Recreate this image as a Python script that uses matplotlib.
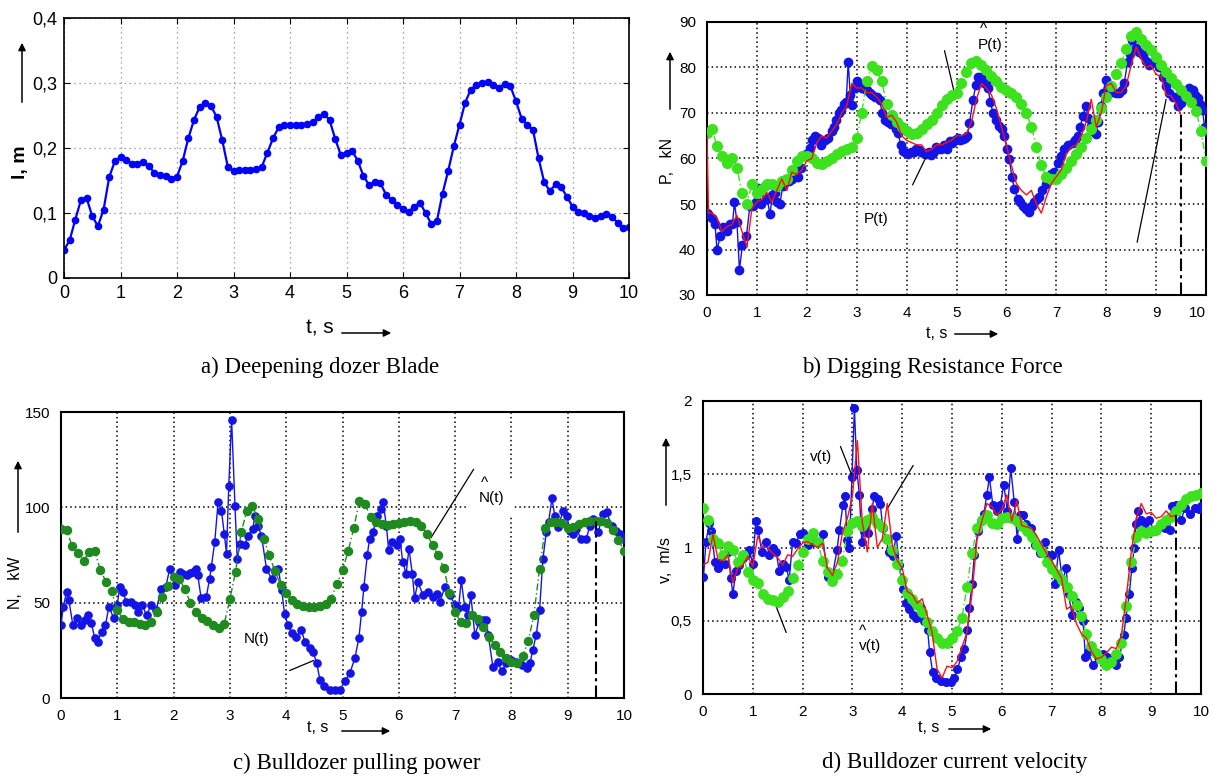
import numpy as np
import matplotlib
matplotlib.use("Agg")
import matplotlib.pyplot as plt
from matplotlib.patches import FancyArrowPatch

W, H = 1214, 779

# common time grid, 0.1 s step
T = np.round(np.arange(101) * 0.1, 1)

# a) blade deepening l, m
L_A = [0.043, 0.058, 0.090, 0.120, 0.123, 0.095, 0.080, 0.105, 0.155, 0.180,
       0.186, 0.182, 0.176, 0.175, 0.179, 0.172, 0.162, 0.159, 0.157, 0.153,
       0.156, 0.180, 0.215, 0.243, 0.263, 0.270, 0.265, 0.248, 0.212, 0.171,
       0.165, 0.166, 0.166, 0.166, 0.167, 0.171, 0.193, 0.215, 0.232, 0.236,
       0.236, 0.236, 0.236, 0.237, 0.240, 0.247, 0.253, 0.243, 0.214, 0.189,
       0.192, 0.196, 0.180, 0.157, 0.143, 0.147, 0.146, 0.128, 0.120, 0.113,
       0.106, 0.102, 0.110, 0.116, 0.100, 0.083, 0.088, 0.130, 0.165, 0.203,
       0.236, 0.270, 0.290, 0.297, 0.300, 0.302, 0.297, 0.293, 0.299, 0.295,
       0.272, 0.245, 0.236, 0.228, 0.184, 0.147, 0.134, 0.144, 0.140, 0.125,
       0.110, 0.102, 0.100, 0.096, 0.093, 0.096, 0.098, 0.094, 0.085, 0.077,
       0.078]

# b) digging resistance P, kN
T_B_BLUE = [0.0, 0.03, 0.1, 0.16, 0.2, 0.27, 0.32, 0.36, 0.41, 0.46,
            0.51, 0.55, 0.6, 0.65, 0.71, 0.79, 0.86, 0.93, 0.98, 1.03,
            1.09, 1.16, 1.21, 1.26, 1.31, 1.36, 1.41, 1.46, 1.52, 1.59,
            1.65, 1.71, 1.77, 1.83, 1.88, 1.93, 1.98, 2.06, 2.11, 2.16,
            2.22, 2.29, 2.36, 2.43, 2.5, 2.55, 2.59, 2.64, 2.69, 2.74,
            2.79, 2.83, 2.87, 2.91, 2.96, 3.01, 3.06, 3.11, 3.16, 3.21,
            3.26, 3.31, 3.36, 3.41, 3.46, 3.51, 3.56, 3.62, 3.68, 3.73,
            3.78, 3.83, 3.88, 3.93, 3.98, 4.03, 4.09, 4.14, 4.19, 4.24,
            4.29, 4.34, 4.39, 4.44, 4.49, 4.53, 4.58, 4.63, 4.69, 4.75,
            4.8, 4.86, 4.91, 4.96, 5.03, 5.08, 5.13, 5.18, 5.22, 5.26,
            5.33, 5.39, 5.44, 5.49, 5.55, 5.59, 5.63, 5.68, 5.73, 5.79,
            5.86, 5.91, 5.96, 6.01, 6.06, 6.11, 6.16, 6.23, 6.28, 6.33,
            6.39, 6.46, 6.51, 6.56, 6.61, 6.66, 6.72, 6.79, 6.84, 6.89,
            6.96, 7.03, 7.09, 7.16, 7.24, 7.33, 7.38, 7.43, 7.48, 7.53,
            7.59, 7.64, 7.69, 7.74, 7.79, 7.84, 7.89, 7.94, 7.99, 8.06,
            8.13, 8.19, 8.26, 8.31, 8.36, 8.43, 8.47, 8.51, 8.55, 8.59,
            8.66, 8.73, 8.8, 8.86, 8.92, 8.99, 9.06, 9.13, 9.19, 9.26,
            9.33, 9.39, 9.44, 9.49, 9.54, 9.59, 9.66, 9.73, 9.78, 9.83,
            9.88, 9.93, 9.97, 10.0]
P_B_BLUE = [48.0, 47.7, 47.0, 45.6, 40.0, 43.0, 45.0, 44.5, 44.0, 45.6,
            45.5, 50.4, 46.0, 35.5, 41.0, 43.0, 49.6, 49.5, 50.5, 53.6,
            50.0, 54.0, 51.0, 47.7, 52.0, 52.5, 50.5, 50.0, 54.0, 55.5,
            55.0, 55.5, 56.5, 56.0, 58.0, 60.5, 61.0, 62.4, 64.0, 65.0,
            64.5, 63.0, 64.0, 64.5, 66.0, 67.0, 68.5, 70.0, 70.7, 72.0,
            72.5, 81.3, 74.0, 71.8, 75.5, 77.0, 75.8, 75.5, 75.2, 75.0,
            74.4, 74.0, 73.5, 73.5, 72.9, 70.0, 68.5, 68.0, 67.5, 67.8,
            66.5, 65.6, 63.0, 61.6, 61.2, 60.9, 61.5, 61.5, 62.0, 61.8,
            61.5, 61.2, 60.9, 61.5, 60.7, 61.3, 62.5, 62.0, 62.0, 63.0,
            62.0, 63.8, 63.5, 64.0, 64.5, 64.0, 64.2, 64.5, 65.0, 67.8,
            72.9, 76.2, 78.0, 78.0, 76.5, 76.5, 75.5, 72.5, 70.0, 68.5,
            67.1, 66.5, 64.9, 62.0, 59.8, 56.0, 53.3, 51.0, 50.5, 49.6,
            48.8, 48.2, 49.5, 50.4, 51.0, 51.5, 53.0, 54.4, 55.5, 56.5,
            57.0, 59.1, 60.5, 62.0, 63.0, 63.5, 64.0, 64.9, 67.0, 69.3,
            71.5, 69.0, 67.1, 66.0, 65.3, 68.0, 71.5, 74.5, 77.3, 75.5,
            74.7, 74.5, 74.4, 75.0, 76.5, 81.3, 83.0, 86.0, 86.5, 84.2,
            83.5, 82.7, 81.5, 80.5, 81.0, 82.0, 80.0, 78.0, 76.0, 74.4,
            73.5, 73.6, 71.5, 72.2, 73.5, 74.4, 75.5, 75.0, 74.0, 73.3,
            72.0, 70.7, 67.0, 66.0]
# red model curve: starts at t=0 and t=0.03, then 0.1 ... 9.5
T_B_RED = [0.0, 0.03] + list(T[1:96])
P_B_RED = [65.0, 48.0,
           48.0, 47.0, 44.0, 45.0, 45.5, 47.5, 44.0, 40.5, 49.0, 50.5,
           51.0, 52.5, 50.5, 53.0, 55.5, 53.0, 57.0, 56.5, 57.5, 59.5,
           60.0, 63.5, 65.0, 64.5, 66.0, 67.5, 70.0, 71.5, 76.5, 75.5,
           75.5, 74.5, 74.5, 73.5, 72.0, 69.0, 69.5, 68.0, 65.0, 64.0,
           63.5, 63.0, 63.0, 61.5, 62.0, 63.0, 63.0, 63.5, 64.0, 65.0,
           65.0, 65.5, 68.0, 73.0, 76.5, 75.5, 74.0, 71.0, 67.0, 63.0,
           58.5, 54.5, 53.0, 52.0, 53.0, 50.0, 48.0, 51.5, 54.5, 56.0,
           57.5, 61.0, 62.5, 63.0, 65.0, 68.0, 73.0, 67.0, 70.0, 76.0,
           76.5, 74.5, 74.5, 76.0, 80.5, 84.5, 82.0, 80.0, 80.5, 78.5,
           78.0, 74.0, 73.8, 72.0, 69.5]
P_B_GREEN = [65.6, 66.5, 62.7, 60.5, 59.0, 60.2, 58.0, 52.5, 50.0, 54.5,
             52.5, 53.3, 54.5, 54.5, 54.0, 55.0, 55.5, 57.5, 59.5, 60.5,
             60.5, 60.0, 59.0, 58.7, 59.5, 60.2, 61.0, 61.7, 62.0, 62.5,
             64.5, 70.0, 77.0, 80.3, 79.5, 77.0, 72.0, 69.5, 68.0, 67.0,
             66.0, 65.3, 65.6, 66.5, 67.5, 68.5, 70.0, 71.8, 73.0, 74.0,
             74.3, 76.5, 79.0, 81.0, 81.5, 80.5, 79.5, 78.2, 77.0, 75.8,
             75.0, 74.3, 73.5, 72.0, 70.0, 67.0, 62.5, 58.5, 56.0, 55.5,
             55.5, 56.5, 58.0, 59.5, 61.0, 62.5, 64.5, 66.5, 68.5, 71.0,
             73.5, 76.0, 78.5, 81.0, 84.0, 87.0, 87.8, 86.3, 85.0, 83.8,
             82.2, 80.5, 79.0, 77.6, 76.3, 75.0, 73.7, 72.5, 70.5, 66.0,
             59.5]

# c) pulling power N, kW
T_C_BLUE = [0.0, 0.04, 0.1, 0.14, 0.21, 0.29, 0.36, 0.42, 0.48, 0.54,
            0.6, 0.65, 0.72, 0.79, 0.85, 0.94, 1.0, 1.04, 1.1, 1.16,
            1.25, 1.31, 1.37, 1.44, 1.52, 1.6, 1.69, 1.78, 1.86, 1.93,
            2.02, 2.11, 2.17, 2.23, 2.29, 2.35, 2.4, 2.43, 2.49, 2.58,
            2.64, 2.67, 2.73, 2.79, 2.85, 2.9, 2.94, 2.98, 3.03, 3.09,
            3.13, 3.18, 3.26, 3.32, 3.41, 3.44, 3.5, 3.56, 3.65, 3.74,
            3.8, 3.86, 3.92, 3.97, 4.03, 4.1, 4.18, 4.27, 4.33, 4.42,
            4.48, 4.54, 4.6, 4.68, 4.77, 4.86, 4.95, 5.04, 5.13, 5.22,
            5.29, 5.34, 5.38, 5.44, 5.48, 5.54, 5.62, 5.68, 5.72, 5.78,
            5.82, 5.88, 5.96, 6.02, 6.07, 6.13, 6.18, 6.24, 6.28, 6.34,
            6.43, 6.52, 6.61, 6.67, 6.73, 6.82, 6.91, 7.0, 7.06, 7.11,
            7.17, 7.23, 7.28, 7.35, 7.43, 7.49, 7.55, 7.59, 7.67, 7.76,
            7.83, 7.91, 8.0, 8.09, 8.18, 8.27, 8.33, 8.38, 8.44, 8.5,
            8.56, 8.62, 8.66, 8.72, 8.77, 8.83, 8.92, 8.98, 9.04, 9.09,
            9.15, 9.24, 9.33, 9.39, 9.45, 9.54, 9.63, 9.69, 9.78, 9.86,
            9.93, 10.0]
N_C_BLUE = [38.3, 47.8, 55.7, 51.3, 38.3, 41.7, 38.3, 40.9, 43.5, 39.1,
            31.3, 29.2, 34.8, 38.3, 47.8, 41.7, 48.7, 58.3, 55.7, 50.4,
            50.4, 48.7, 45.2, 48.7, 43.5, 48.7, 46.0, 57.4, 58.0, 67.8,
            59.1, 66.1, 65.0, 64.3, 65.5, 66.1, 67.8, 64.3, 52.2, 53.0,
            62.6, 68.7, 81.7, 102.6, 98.3, 86.1, 75.7, 111.3, 146.0, 100.9,
            73.0, 80.9, 80.0, 85.2, 88.7, 95.7, 90.0, 85.2, 67.8, 62.6,
            67.0, 67.8, 56.5, 44.3, 38.3, 33.9, 32.2, 35.7, 29.6, 26.1,
            24.3, 18.3, 9.6, 6.1, 4.3, 4.3, 4.3, 8.7, 13.0, 20.9,
            31.3, 45.2, 58.3, 74.8, 83.5, 87.0, 95.7, 99.1, 102.6, 90.4,
            77.4, 81.7, 80.0, 83.5, 71.3, 65.2, 78.3, 65.2, 52.2, 60.9,
            53.9, 55.7, 53.0, 54.8, 50.4, 58.3, 53.9, 48.7, 47.0, 61.7,
            47.8, 43.5, 53.9, 33.0, 40.0, 41.0, 40.9, 33.0, 16.5, 19.1,
            13.9, 18.3, 20.0, 19.1, 17.4, 15.7, 18.3, 25.2, 33.0, 46.0,
            73.0, 87.0, 92.2, 104.7, 95.7, 89.6, 98.3, 95.7, 87.8, 86.1,
            88.7, 83.5, 83.5, 90.0, 93.9, 87.0, 96.5, 97.4, 90.4, 87.8,
            86.0, 83.5]
N_C_GREEN = [88.7, 88.0, 79.5, 76.0, 72.0, 76.5, 77.0, 67.0, 61.0, 56.0,
             46.0, 41.5, 40.0, 40.0, 39.0, 38.5, 40.0, 45.0, 53.0, 59.0,
             63.5, 62.5, 57.0, 50.0, 45.0, 42.0, 40.5, 38.5, 36.5, 39.0,
             52.0, 66.0, 87.0, 98.0, 100.5, 94.0, 83.5, 75.0, 66.5, 59.5,
             55.0, 51.5, 49.5, 48.5, 47.8, 47.8, 48.5, 49.3, 52.0, 60.0,
             67.0, 77.0, 89.0, 103.5, 101.5, 95.0, 92.5, 91.5, 90.5, 91.0,
             92.0, 92.5, 93.0, 92.5, 90.0, 86.0, 80.0, 74.8, 68.0, 55.0,
             45.0, 40.0, 39.1, 43.5, 41.5, 37.0, 32.0, 28.0, 24.0, 21.0,
             19.0, 18.5, 22.0, 30.0, 43.5, 67.8, 89.0, 92.5, 92.5, 92.0,
             89.0, 89.5, 91.0, 92.2, 92.8, 93.0, 93.0, 92.0, 88.0, 83.0,
             77.0]

# d) current velocity v, m/s
T_D_BLUE = [0.01, 0.06, 0.13, 0.17, 0.24, 0.31, 0.38, 0.44, 0.5, 0.56,
            0.6, 0.66, 0.73, 0.8, 0.86, 0.93, 1.0, 1.06, 1.11, 1.18,
            1.27, 1.33, 1.4, 1.47, 1.53, 1.6, 1.67, 1.73, 1.8, 1.87,
            1.94, 2.0, 2.1, 2.2, 2.3, 2.4, 2.5, 2.6, 2.69, 2.74,
            2.81, 2.85, 2.9, 2.94, 2.99, 3.04, 3.09, 3.14, 3.19, 3.24,
            3.31, 3.39, 3.44, 3.51, 3.56, 3.61, 3.67, 3.74, 3.81, 3.88,
            3.94, 4.01, 4.08, 4.14, 4.21, 4.28, 4.38, 4.44, 4.51, 4.55,
            4.61, 4.68, 4.78, 4.88, 4.98, 5.05, 5.11, 5.18, 5.25, 5.31,
            5.35, 5.4, 5.45, 5.52, 5.58, 5.64, 5.7, 5.75, 5.82, 5.9,
            5.97, 6.04, 6.11, 6.18, 6.25, 6.31, 6.36, 6.42, 6.49, 6.58,
            6.66, 6.76, 6.86, 6.92, 7.0, 7.07, 7.14, 7.22, 7.29, 7.34,
            7.41, 7.49, 7.56, 7.63, 7.68, 7.73, 7.83, 7.94, 8.04, 8.12,
            8.2, 8.3, 8.36, 8.45, 8.49, 8.56, 8.61, 8.66, 8.69, 8.73,
            8.79, 8.88, 8.96, 9.06, 9.16, 9.27, 9.37, 9.41, 9.5, 9.6,
            9.68, 9.77, 9.87, 9.95, 10.0]
V_D_BLUE = [0.80, 1.04, 1.17, 1.11, 0.90, 0.86, 0.90, 0.89, 0.97, 0.79,
            0.68, 0.84, 0.88, 0.93, 0.95, 0.98, 0.89, 1.18, 1.12, 0.97,
            1.04, 0.95, 1.00, 0.97, 0.84, 0.89, 0.87, 0.78, 1.04, 1.03,
            1.09, 1.10, 1.02, 1.04, 1.03, 1.09, 0.80, 0.81, 0.98, 1.12,
            1.29, 1.35, 1.05, 1.00, 1.48, 1.95, 1.53, 1.36, 1.04, 1.11,
            1.10, 1.26, 1.35, 1.33, 1.30, 1.13, 1.06, 0.97, 0.94, 1.08,
            0.88, 0.72, 0.62, 0.58, 0.54, 0.52, 0.59, 0.50, 0.44, 0.29,
            0.15, 0.11, 0.09, 0.08, 0.08, 0.11, 0.17, 0.25, 0.31, 0.44,
            0.59, 0.75, 0.95, 1.11, 1.18, 1.23, 1.36, 1.48, 1.29, 1.25,
            1.29, 1.43, 1.25, 1.54, 1.31, 1.06, 1.22, 1.22, 1.16, 1.13,
            1.02, 0.96, 1.04, 0.95, 0.95, 0.75, 0.98, 0.77, 0.86, 0.68,
            0.54, 0.63, 0.59, 0.50, 0.25, 0.29, 0.20, 0.25, 0.27, 0.25,
            0.23, 0.20, 0.25, 0.40, 0.52, 0.68, 0.86, 1.00, 1.16, 1.25,
            1.19, 1.17, 1.19, 1.11, 1.14, 1.13, 1.12, 1.28, 1.29, 1.19,
            1.27, 1.23, 1.27, 1.26, 1.28]
# red model: 0.0 ... 9.5 s
V_D_RED = [0.88, 0.90, 1.09, 0.92, 0.91, 0.95, 0.76, 0.86, 0.88, 0.94,
           0.87, 1.08, 1.00, 1.00, 0.96, 0.93, 0.88, 0.95, 0.94, 0.99,
           1.03, 1.04, 1.02, 1.00, 1.03, 0.86, 0.81, 0.90, 1.10, 1.20,
           1.35, 1.73, 1.17, 0.97, 1.30, 1.00, 1.06, 1.30, 1.02, 0.91,
           0.86, 0.70, 0.68, 0.62, 0.65, 0.54, 0.42, 0.17, 0.11, 0.19,
           0.18, 0.22, 0.32, 0.42, 0.68, 1.05, 1.18, 1.30, 1.28, 1.22,
           1.26, 1.36, 1.18, 1.32, 1.15, 1.14, 1.13, 1.08, 1.02, 0.96,
           0.91, 0.85, 0.79, 0.58, 0.60, 0.48, 0.41, 0.38, 0.29, 0.24,
           0.25, 0.28, 0.32, 0.31, 0.40, 0.66, 0.97, 1.20, 1.30, 1.23,
           1.24, 1.20, 1.21, 1.25, 1.21, 1.22]
V_D_GREEN = [1.27, 1.19, 1.06, 1.03, 0.95, 1.01, 0.98, 0.90, 0.95, 0.83,
             0.78, 0.76, 0.68, 0.65, 0.64, 0.63, 0.66, 0.70, 0.79, 0.88,
             0.97, 1.06, 1.10, 1.04, 0.91, 0.83, 0.77, 0.82, 0.91, 1.11,
             1.17, 1.18, 1.15, 1.19, 1.21, 1.17, 1.14, 1.06, 0.98, 0.89,
             0.78, 0.69, 0.65, 0.61, 0.56, 0.49, 0.43, 0.38, 0.35, 0.35,
             0.38, 0.43, 0.52, 0.73, 0.96, 1.13, 1.19, 1.22, 1.17, 1.16,
             1.20, 1.21, 1.20, 1.18, 1.15, 1.11, 1.07, 1.02, 0.97, 0.90,
             0.85, 0.82, 0.78, 0.73, 0.67, 0.61, 0.53, 0.41, 0.33, 0.28,
             0.24, 0.20, 0.22, 0.27, 0.35, 0.60, 0.90, 1.07, 1.11, 1.10,
             1.11, 1.12, 1.16, 1.19, 1.21, 1.25, 1.29, 1.33, 1.35, 1.36,
             1.37]

T_SPLIT = 9.5
SPLIT_TOP_B, SPLIT_TOP_C, SPLIT_TOP_D = 69.5, 93.0, 1.22

BLUE = "#1414e6"
RED = "#ff1010"
LIME = "#3de21e"
DKGREEN = "#1f8a1f"
SANS = ["Liberation Sans", "DejaVu Sans"]
NARROW = ["Liberation Sans Narrow", "Liberation Sans", "DejaVu Sans"]
SERIF = ["Liberation Serif", "DejaVu Serif"]


def px_axes(fig, left, top, right, bottom):
    return fig.add_axes([left / W, 1 - bottom / H, (right - left) / W, (bottom - top) / H])


def fig_text(fig, x, y, s, **kw):
    kw.setdefault("ha", "center")
    kw.setdefault("va", "center")
    fig.text(x / W, 1 - y / H, s, **kw)


def fig_arrow(fig, x0, y0, x1, y1):
    fig.add_artist(FancyArrowPatch((x0 / W, 1 - y0 / H), (x1 / W, 1 - y1 / H),
                                   transform=fig.transFigure, arrowstyle="-|>",
                                   mutation_scale=11, lw=1.1, color="k"))


def leader(ax, x0, y0, x1, y1):
    ax.annotate("", xy=(x1, y1), xytext=(x0, y0),
                arrowprops=dict(arrowstyle="-", color="k", lw=0.9, shrinkA=0, shrinkB=0))


def hat_label(ax, x, y, s, dy, **kw):
    # label with a small caret drawn above its first letter
    ax.text(x, y, s, ha="center", va="center", fontsize=11, family=SANS, **kw)
    ax.annotate("^", xy=(x, y), xytext=(-5, dy), textcoords="offset points",
                ha="center", va="bottom", fontsize=11, family=SANS, zorder=9)


def gnuplot_style(ax, ylim, yticks, ylabels):
    ax.set_xlim(0, 10)
    ax.set_ylim(*ylim)
    ax.set_xticks(range(11))
    ax.set_yticks(yticks)
    ax.set_yticklabels(ylabels)
    ax.grid(True, color="k", ls=(0, (1, 2)), lw=1.1)
    ax.tick_params(length=0, pad=8, labelsize=11)
    for lbl in ax.get_xticklabels() + ax.get_yticklabels():
        lbl.set_family(SANS)
    for s in ax.spines.values():
        s.set_linewidth(1.5)
    ax.set_axisbelow(True)


fig = plt.figure(figsize=(W / 100, H / 100), dpi=100)

# ---- a) Deepening dozer blade
ax = px_axes(fig, 64, 18, 629, 278)
ax.plot(T, L_A, "-o", color="#0000ff", lw=1.6, ms=4.5, mec="#0000ff")
ax.set_xlim(0, 10)
ax.set_ylim(0, 0.4)
ax.set_xticks(range(11))
ax.set_yticks([0, 0.1, 0.2, 0.3, 0.4])
ax.set_yticklabels(["0", "0,1", "0,2", "0,3", "0,4"])
ax.grid(True, color="#8c8c8c", ls=(0, (1, 3)), lw=0.9)
ax.tick_params(direction="in", top=True, right=True, length=4, pad=5, labelsize=13)
for lbl in ax.get_xticklabels() + ax.get_yticklabels():
    lbl.set_family(NARROW)
for s in ax.spines.values():
    s.set_linewidth(1.2)
ax.set_axisbelow(True)
fig_text(fig, 320, 328, "t, s", fontsize=15, family=NARROW)
fig_arrow(fig, 339, 333, 394, 333)
fig_text(fig, 20, 162, "l, m", fontsize=14, family=NARROW, rotation=90, weight="bold")
fig_arrow(fig, 22, 105, 22, 40)
fig_text(fig, 320, 367, "a) Deepening dozer Blade", fontsize=16.5, family=SERIF)

# ---- b) Digging resistance force
ax = px_axes(fig, 707, 22, 1206, 295)
ax.plot(T_B_BLUE, P_B_BLUE, "-o", color=BLUE, lw=1.0, ms=6, zorder=3)
ax.plot(T, P_B_GREEN, "o", color=LIME, ls=(0, (5, 2, 1, 2)), lw=1.0, ms=7, zorder=4)
ax.plot(T_B_RED, P_B_RED, "-", color=RED, lw=1.0, zorder=5)
ax.vlines(T_SPLIT, 30, SPLIT_TOP_B, colors="k", lw=1.5, linestyles=[(0, (6, 2, 1.5, 2))], zorder=6)
gnuplot_style(ax, (30, 90), range(30, 91, 10), [str(v) for v in range(30, 91, 10)])
ax.get_xticklabels()[-1].set_horizontalalignment("right")
hat_label(ax, 5.68, 85.0, "P(t)", 6)
ax.text(3.38, 46.8, "P(t)", ha="center", va="center", fontsize=11, family=SANS)
leader(ax, 4.76, 83.7, 4.96, 74.3)
leader(ax, 4.12, 54.2, 4.38, 60.1)
leader(ax, 8.62, 41.6, 9.2, 73.0)
fig_text(fig, 937, 333, "t, s", fontsize=11.5, family=SANS)
fig_arrow(fig, 952, 334, 1001, 334)
fig_text(fig, 667, 161, "P,   kN", fontsize=11.5, family=SANS, rotation=90)
fig_arrow(fig, 670, 112, 670, 49)
fig_text(fig, 932, 367, "b) Digging Resistance Force", fontsize=16.5, family=SERIF)

# ---- c) Bulldozer pulling power
ax = px_axes(fig, 61, 412, 624, 698)
ax.plot(T_C_BLUE, N_C_BLUE, "-o", color=BLUE, lw=1.0, ms=5.2, zorder=3)
ax.plot(T, N_C_GREEN, "o", color=DKGREEN, ls=(0, (5, 2, 1, 2)), lw=1.0, ms=5.8, zorder=4)
ax.vlines(T_SPLIT, 0, SPLIT_TOP_C, colors="k", lw=1.5, linestyles=[(0, (6, 2, 1.5, 2))], zorder=6)
gnuplot_style(ax, (0, 150), [0, 50, 100, 150], ["0", "50", "100", "150"])
hat_label(ax, 7.65, 104.9, "N(t)", 6, bbox=dict(fc="white", ec="none", pad=7), zorder=7)
ax.text(3.48, 31.0, "N(t)", ha="center", va="center", fontsize=11, family=SANS)
leader(ax, 7.33, 120.0, 6.57, 84.0)
leader(ax, 4.06, 14.4, 4.49, 19.7)
fig_text(fig, 318, 728, "t, s", fontsize=11.5, family=SANS)
fig_arrow(fig, 339, 731, 393, 731)
fig_text(fig, 16, 583, "N,   kW", fontsize=11.5, family=SANS, rotation=90)
fig_arrow(fig, 18, 535, 18, 458)
fig_text(fig, 357, 763, "c) Bulldozer pulling power", fontsize=16.5, family=SERIF)

# ---- d) Bulldozer current velocity
ax = px_axes(fig, 703, 401, 1201, 694)
ax.plot(T_D_BLUE, V_D_BLUE, "-o", color=BLUE, lw=1.0, ms=5.5, zorder=3)
ax.plot(T, V_D_GREEN, "o", color=LIME, ls=(0, (5, 2, 1, 2)), lw=1.0, ms=6.8, zorder=4)
ax.plot(T[:96], V_D_RED, "-", color=RED, lw=1.0, zorder=5)
ax.vlines(T_SPLIT, 0, SPLIT_TOP_D, colors="k", lw=1.5, linestyles=[(0, (6, 2, 1.5, 2))], zorder=6)
gnuplot_style(ax, (0, 2), [0, 0.5, 1, 1.5, 2], ["0", "0,5", "1", "1,5", "2"])
ax.text(2.38, 1.62, "v(t)", ha="center", va="center", fontsize=11, family=SANS)
hat_label(ax, 3.35, 0.325, "v(t)", 6)
leader(ax, 2.76, 1.69, 2.98, 1.50)
leader(ax, 4.22, 1.56, 3.69, 1.26)
leader(ax, 1.41, 0.65, 1.67, 0.42)
fig_text(fig, 929, 728, "t, s", fontsize=11.5, family=SANS)
fig_arrow(fig, 946, 729, 994, 729)
fig_text(fig, 665, 560, "v,  m/s", fontsize=11.5, family=SANS, rotation=90)
fig_arrow(fig, 666, 508, 666, 435)
fig_text(fig, 955, 762, "d) Bulldozer current velocity", fontsize=16.5, family=SERIF)

fig.savefig("out.png", dpi=100)
